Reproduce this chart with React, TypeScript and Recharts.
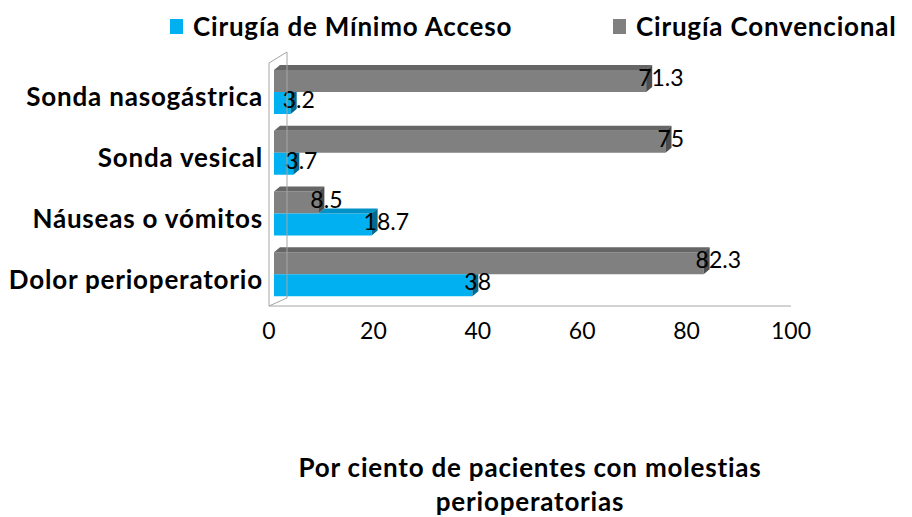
import React from "react";
import { BarChart, Bar, XAxis, YAxis, LabelList } from "recharts";

const categories = ["Sonda nasogástrica", "Sonda vesical", "Náuseas o vómitos", "Dolor perioperatorio"];
const minimoAcceso = [3.2, 3.7, 18.7, 38];
const convencional = [71.3, 75, 8.5, 82.3];
const xTicks = [0, 20, 40, 60, 80, 100];

const data = categories.map((name, i) => ({
  name,
  minimo: minimoAcceso[i],
  conv: convencional[i],
}));

const W = 912;
const H = 517;
const PLOT_LEFT = 269;
const PLOT_RIGHT = 791;
const PLOT_TOP = 63;
const PLOT_BOTTOM = 306;

// 3D look: depth offset of the bar tops/sides
const DX = 6;
const DY = 5;
const SHIFT_X = 5;
const SHIFT_Y = -1;

const FONT = "Lato, 'Open Sans', sans-serif";
const CYAN = "#00B0F0";
const GRAY = "#808080";

const shades: Record<string, { top: string; side: string }> = {
  [CYAN]: { top: "#0091c6", side: "#006a90" },
  [GRAY]: { top: "#666666", side: "#4d4d4d" },
};

function GrayBar(props: any) {
  const { x, y, width, height, fill } = props;
  if (!width) return null;
  const fx = x + SHIFT_X;
  const fy = y + SHIFT_Y;
  const ex = fx + width;
  const s = shades[fill];
  return (
    <g>
      <rect x={fx} y={fy} width={width} height={height} fill={fill} />
      <polygon points={`${fx},${fy} ${fx + DX},${fy - DY} ${ex + DX},${fy - DY} ${ex},${fy}`} fill={s.top} />
      <polygon points={`${ex},${fy} ${ex + DX},${fy - DY} ${ex + DX},${fy - DY + height} ${ex},${fy + height}`} fill={s.side} />
    </g>
  );
}

function CyanBar(props: any) {
  const { x, y, width, height, fill, payload, value } = props;
  if (!width) return null;
  const v = Array.isArray(value) ? value[1] : value;
  const pxPerUnit = width / v;
  const fx = x + SHIFT_X;
  const fy = y + SHIFT_Y;
  const ex = fx + width;
  const gx = fx + payload.conv * pxPerUnit; // end of the gray bar above
  const s = shades[fill];
  return (
    <g>
      <rect x={fx} y={fy} width={width} height={height} fill={fill} />
      {ex > gx ? (
        <>
          <polygon points={`${gx},${fy} ${gx + DX},${fy - DY} ${ex + DX},${fy - DY} ${ex},${fy}`} fill={s.top} />
          <polygon points={`${ex},${fy} ${ex + DX},${fy - DY} ${ex + DX},${fy - DY + height} ${ex},${fy + height}`} fill={s.side} />
        </>
      ) : (
        <polygon points={`${ex},${fy} ${ex + DX},${fy} ${ex + DX},${fy - DY + height} ${ex},${fy + height}`} fill={s.side} />
      )}
    </g>
  );
}

function ValueLabel(props: any) {
  const { x, y, width, value } = props;
  return (
    <text
      x={x + SHIFT_X + width - 8}
      y={y + SHIFT_Y + 7}
      dominantBaseline="central"
      fontFamily={FONT}
      fontSize={23}
      fill="#000"
    >
      {value}
    </text>
  );
}

function CategoryTick(props: any) {
  const { x, y, payload } = props;
  return (
    <text
      x={x + 2}
      y={y + 3}
      textAnchor="end"
      dominantBaseline="central"
      fontFamily={FONT}
      fontWeight={700}
      fontSize={26}
      letterSpacing={0.8}
      fill="#000"
    >
      {payload.value}
    </text>
  );
}

function NumberTick(props: any) {
  const { x, y, payload } = props;
  return (
    <text x={x} y={y + 16} textAnchor="middle" dominantBaseline="central" fontFamily={FONT} fontSize={23} fill="#000">
      {payload.value}
    </text>
  );
}

const legendItems = [
  { label: "Cirugía de Mínimo Acceso", color: CYAN, left: 170 },
  { label: "Cirugía Convencional", color: GRAY, left: 613 },
];

export default function App() {
  return (
    <div style={{ position: "absolute", left: 0, top: 0, width: W, height: H, background: "#fff", fontFamily: FONT }}>
      {legendItems.map((it) => (
        <div
          key={it.label}
          style={{ position: "absolute", left: it.left, top: 10, height: 32, display: "flex", alignItems: "center" }}
        >
          <div style={{ width: 13, height: 15, background: it.color, marginRight: 10 }} />
          <span style={{ fontSize: 26, fontWeight: 700, letterSpacing: 0.8, color: "#000", whiteSpace: "nowrap" }}>
            {it.label}
          </span>
        </div>
      ))}

      <BarChart
        width={W}
        height={H}
        data={data}
        layout="vertical"
        margin={{ top: PLOT_TOP, right: W - PLOT_RIGHT, bottom: 0, left: 0 }}
        barGap={0}
        barSize={22}
        style={{ position: "absolute", left: 0, top: 0 }}
      >
        <XAxis
          type="number"
          domain={[0, 100]}
          ticks={xTicks}
          tick={<NumberTick />}
          tickLine={false}
          axisLine={{ stroke: "#a6a6a6" }}
          height={H - PLOT_BOTTOM}
        />
        <YAxis
          type="category"
          dataKey="name"
          width={PLOT_LEFT}
          tick={<CategoryTick />}
          tickLine={false}
          axisLine={{ stroke: "#a6a6a6" }}
        />
        <Bar dataKey="conv" name="Cirugía Convencional" fill={GRAY} shape={<GrayBar />} isAnimationActive={false}>
          <LabelList dataKey="conv" content={<ValueLabel />} />
        </Bar>
        <Bar dataKey="minimo" name="Cirugía de Mínimo Acceso" fill={CYAN} shape={<CyanBar />} isAnimationActive={false}>
          <LabelList dataKey="minimo" content={<ValueLabel />} />
        </Bar>
      </BarChart>

      {/* side wall of the 3D frame */}
      <svg width={W} height={H} style={{ position: "absolute", left: 0, top: 0, pointerEvents: "none" }}>
        <g stroke="#a6a6a6" strokeWidth={1} fill="none">
          <line x1={PLOT_LEFT + 18} y1={PLOT_TOP - 11} x2={PLOT_LEFT + 18} y2={PLOT_BOTTOM - 8} />
          <line x1={PLOT_LEFT} y1={PLOT_TOP} x2={PLOT_LEFT + 18} y2={PLOT_TOP - 11} />
          <line x1={PLOT_LEFT} y1={PLOT_BOTTOM} x2={PLOT_LEFT + 18} y2={PLOT_BOTTOM - 8} />
        </g>
      </svg>

      <div
        style={{
          position: "absolute",
          left: PLOT_LEFT - 100,
          width: PLOT_RIGHT - PLOT_LEFT + 200,
          top: 450,
          textAlign: "center",
          fontSize: 26,
          fontWeight: 700,
          letterSpacing: 0.8,
          lineHeight: "34px",
          color: "#000",
        }}
      >
        Por ciento de pacientes con molestias
        <br />
        perioperatorias
      </div>
    </div>
  );
}
